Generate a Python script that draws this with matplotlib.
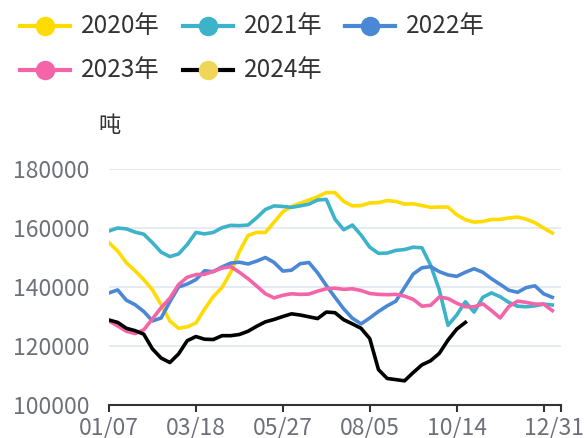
import matplotlib
matplotlib.use("Agg")
import matplotlib.pyplot as plt
import matplotlib.transforms as mtransforms
from matplotlib.lines import Line2D

plt.rcParams['font.family'] = ['Noto Sans CJK SC', 'DejaVu Sans']

# weekly values, thousand tonnes -> scaled below
y2020 = [155, 152.2, 148.2, 145.5, 142.5, 139, 134, 128.5, 126, 126.5,
         127.8, 132.5, 136.8, 139.8, 145, 152, 157.5, 158.5, 158.5, 162,
         165.5, 167.3, 168.4, 169.5, 170.6, 172, 172, 169, 167.5, 167.6,
         168.5, 168.6, 169.3, 169, 168.1, 168.2, 167.6, 167, 167.1, 167.1,
         164.5, 162.8, 162, 162.2, 162.9, 162.9, 163.4, 163.7, 163, 161.8,
         160, 158.3]
y2021 = [159, 160, 159.7, 158.6, 157.9, 155, 151.8, 150.3, 151.2, 154.4,
         158.5, 158, 158.5, 160.1, 160.9, 160.8, 161, 163.5, 166.3, 167.5,
         167.3, 167, 167.5, 168.1, 169.5, 169.7, 163, 159.4, 161, 157.6,
         153.5, 151.4, 151.5, 152.4, 152.7, 153.5, 153.3, 147.4, 139, 127,
         130.5, 135, 131.5, 136.5, 138, 136.7, 134.8, 133.5, 133.3, 133.6,
         134.2, 133.9]
y2022 = [138, 139, 135.5, 134, 131.7, 128.5, 129.5, 135, 140, 141,
         142.5, 145.5, 145.2, 146.8, 148.1, 148.4, 147.8, 148.8, 150, 148.3,
         145.4, 145.7, 147.9, 148.3, 144.8, 140.5, 136.5, 132.6, 129.4, 127.5,
         129.5, 131.7, 133.6, 135.2, 139.8, 144.4, 146.5, 146.9, 145.2, 144.1,
         143.6, 145, 146.2, 145, 142.8, 140.9, 138.9, 138.2, 139.8, 140.4,
         137.7, 136.5]
y2023 = [128.5, 126.8, 125, 124.2, 125.5, 129.2, 133, 136.2, 140.8, 143.3,
         144.2, 144.3, 145.3, 146.4, 146.9, 145, 142.8, 140.3, 137.7, 136.3,
         137.2, 137.7, 137.5, 137.6, 138.6, 139.4, 139.6, 139.2, 139.4, 138.8,
         137.8, 137.5, 137.4, 137.5, 136.9, 135.8, 133.5, 133.8, 136.6, 136.1,
         134.5, 133.3, 133.3, 134.3, 132, 129.5, 133.4, 135.2, 134.8, 134.2,
         134.2, 132]
y2024 = [128.8, 128, 126, 125.2, 124, 119, 115.9, 114.4, 117.3, 121.8,
         123.2, 122.3, 122.2, 123.5, 123.5, 123.9, 125, 126.7, 128.2, 129,
         130, 130.9, 130.5, 129.9, 129.3, 131.5, 131.3, 128.9, 127.5, 126,
         122.5, 112, 109, 108.6, 108.2, 111, 113.6, 115, 117.5, 122,
         125.7, 128]

series_names = ['2020年', '2021年', '2022年', '2023年', '2024年']
series_data = [y2020, y2021, y2022, y2023, y2024]
line_colors = ['#FFDB00', '#3DB3C9', '#4A88D6', '#F564A8', '#000000']
marker_colors = ['#FFDB00', '#3DB3C9', '#4A88D6', '#F564A8', '#F0D658']

tick_pos = [0, 10, 20, 30, 40, 50, 52]
tick_labels = ['01/07', '03/18', '05/27', '08/05', '10/14', '', '12/31']
y_ticks = [100000, 120000, 140000, 160000, 180000]

fig = plt.figure(figsize=(5.88, 4.38), dpi=100)
ax = fig.add_axes([109 / 588, 1 - 405 / 438, 452 / 588, 236 / 438])

for vals, c in zip(series_data, line_colors):
    ax.plot(range(len(vals)), [v * 1000 for v in vals], color=c, lw=2.6,
            solid_joinstyle='round', zorder=3)

ax.set_xlim(0, 52)
ax.set_ylim(100000, 180000)
ax.set_yticks(y_ticks)
ax.set_yticklabels([str(v) for v in y_ticks])
ax.set_xticks(tick_pos)
ax.set_xticklabels(tick_labels)
ax.grid(axis='y', color='#E0E6F1', lw=1.2)
ax.set_axisbelow(True)
for s in ['left', 'right', 'top']:
    ax.spines[s].set_visible(False)
ax.spines['bottom'].set_color('#333333')
ax.spines['bottom'].set_linewidth(1.5)
ax.tick_params(axis='y', length=0, pad=14, labelsize=16.5, labelcolor='#6E7079')
ax.tick_params(axis='x', length=5, width=1.5, color='#333333', pad=3,
               labelsize=16.5, labelcolor='#6E7079')
last = ax.get_xticklabels()[-1]
last.set_transform(last.get_transform() + mtransforms.ScaledTranslation(-7 / 100, 0, fig.dpi_scale_trans))

fig.text(109 / 588, 1 - 125 / 438, '吨', ha='center', va='center',
         fontsize=16, color='#333333')

# legend, drawn by hand to follow the wrapped layout
legend_pos = [(20, 26), (183, 26), (345, 26), (20, 70), (183, 70)]
for (x0, yc), name, lc, mc in zip(legend_pos, series_names, line_colors, marker_colors):
    yf = 1 - yc / 438
    fig.add_artist(Line2D([x0 / 588, (x0 + 50) / 588], [yf, yf], color=lc, lw=3,
                          transform=fig.transFigure))
    fig.add_artist(Line2D([(x0 + 25) / 588], [yf], marker='o', markersize=13,
                          markerfacecolor=mc, markeredgecolor=mc,
                          transform=fig.transFigure))
    fig.text((x0 + 61) / 588, yf, name, ha='left', va='center',
             fontsize=17.5, color='#333333')

fig.savefig('out.png', dpi=100)
